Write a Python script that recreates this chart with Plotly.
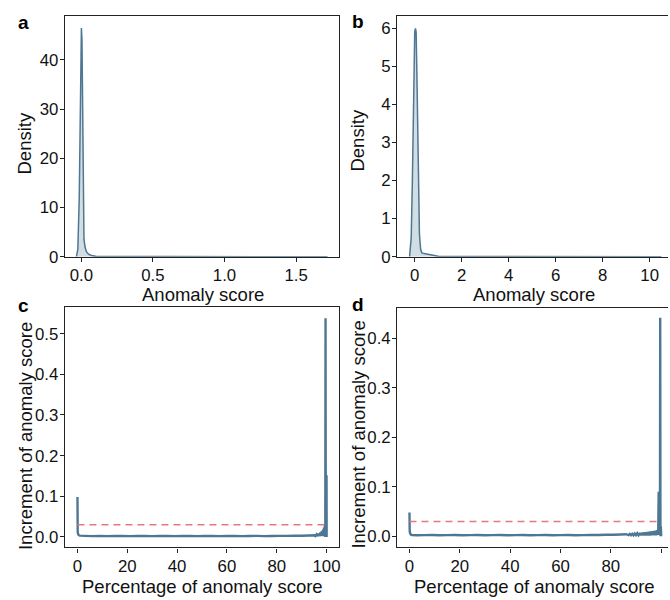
import plotly.graph_objects as go
from plotly.subplots import make_subplots

W, H = 670, 600

# ---------------- data ----------------
# panel a: density of anomaly score (dataset 1)
a_x = [-0.035, -0.025, -0.015, -0.008, -0.003, 0.0, 0.004, 0.008, 0.012, 0.018,
       0.025, 0.035, 0.05, 0.07, 0.1, 0.15, 0.3, 0.6, 1.0, 1.4, 1.72]
a_y = [0.0, 1.5, 12.0, 30.0, 42.0, 46.5, 44.0, 30.0, 10.0, 3.5,
       2.0, 1.0, 0.5, 0.25, 0.1, 0.04, 0.01, 0.005, 0.003, 0.002, 0.0]

# panel b: density of anomaly score (dataset 2)
b_x = [-0.22, -0.15, -0.1, -0.05, 0.0, 0.03, 0.06, 0.1, 0.15, 0.2, 0.25, 0.3,
       0.4, 0.55, 0.7, 1.0, 2.0, 4.0, 7.0, 9.0, 10.5]
b_y = [0.0, 0.5, 2.0, 4.5, 5.9, 6.0, 5.9, 4.5, 2.0, 0.6, 0.2, 0.1,
       0.08, 0.06, 0.03, 0.01, 0.004, 0.002, 0.001, 0.001, 0.0]

# panel c: increment of anomaly score vs percentage
c_x = [0.0, 0.1, 0.3, 0.6, 1.0,
       3, 6, 9, 12, 15, 18, 21, 24, 27, 30, 33, 36, 39, 42, 45, 48, 51, 54, 57, 60,
       63, 66, 69, 72, 75, 78, 81, 84, 87, 90, 93, 95,
       95.5, 96.0, 96.4, 96.8, 97.2, 97.5, 97.8, 98.1, 98.4, 98.6, 98.8, 99.0, 99.2,
       99.35, 99.5, 99.6, 99.7, 99.85, 100.0, 100.05]
c_y = [0.098, 0.012, 0.006, 0.004, 0.003,
       0.0025, 0.002, 0.0025, 0.002, 0.0022, 0.0025, 0.002, 0.0022, 0.0025, 0.002,
       0.0022, 0.0025, 0.002, 0.0022, 0.0025, 0.002, 0.0022, 0.0025, 0.002, 0.0022,
       0.0025, 0.002, 0.0022, 0.0025, 0.002, 0.0022, 0.0025, 0.0025, 0.003, 0.003,
       0.0035, 0.004,
       0.002, 0.006, 0.002, 0.008, 0.002, 0.011, 0.002, 0.014, 0.002, 0.018, 0.002,
       0.023, 0.002, 0.03, 0.0, 0.538, 0.0, 0.03, 0.152, 0.0]

# panel d: increment of anomaly score vs percentage (dataset 2)
d_x = [0.0, 0.1, 0.3, 0.6, 1.0,
       3, 6, 9, 12, 15, 18, 21, 24, 27, 30, 33, 36, 39, 42, 45, 48, 51, 54, 57, 60,
       63, 66, 69, 72, 75, 78, 81, 84, 86,
       87, 87.5, 88, 88.5, 89, 89.5, 90, 90.5, 91, 91.5, 92, 92.5, 93, 93.5, 94, 94.5,
       95, 95.5, 96, 96.5, 97, 97.5, 98, 98.5, 98.8,
       99.0, 99.1, 99.3, 99.5, 99.6, 99.7, 99.85, 100.0]
d_y = [0.048, 0.01, 0.005, 0.003, 0.0025,
       0.002, 0.0022, 0.0025, 0.002, 0.0022, 0.0025, 0.002, 0.0022, 0.0025, 0.002,
       0.0022, 0.0025, 0.002, 0.0022, 0.0025, 0.002, 0.0022, 0.0025, 0.002, 0.0022,
       0.0025, 0.002, 0.0022, 0.0025, 0.0025, 0.003, 0.003, 0.0035, 0.004,
       0.002, 0.0045, 0.002, 0.005, 0.002, 0.0055, 0.002, 0.006, 0.002, 0.0065,
       0.002, 0.007, 0.002, 0.0075, 0.002, 0.008, 0.002, 0.009, 0.002, 0.010,
       0.002, 0.011, 0.002, 0.012, 0.003,
       0.09, 0.003, 0.016, 0.004, 0.442, 0.0, 0.02, 0.0]

threshold = 0.03
thr_x = [0, 100]

LINE = "#4e7793"
FILL = "rgba(78,119,147,0.25)"
RED = "#e5787a"
FONT = "Liberation Sans, Arial, sans-serif"

fig = make_subplots(rows=2, cols=2)

fig.add_trace(go.Scatter(x=a_x, y=a_y, mode="lines", fill="tozeroy", fillcolor=FILL,
                         line=dict(color=LINE, width=1.5), showlegend=False), 1, 1)
fig.add_trace(go.Scatter(x=b_x, y=b_y, mode="lines", fill="tozeroy", fillcolor=FILL,
                         line=dict(color=LINE, width=1.5), showlegend=False), 1, 2)
fig.add_trace(go.Scatter(x=c_x, y=c_y, mode="lines",
                         line=dict(color=LINE, width=2.4, simplify=False), showlegend=False), 2, 1)
fig.add_trace(go.Scatter(x=thr_x, y=[threshold, threshold], mode="lines",
                         line=dict(color=RED, width=1.5, dash="7px,5px"), showlegend=False), 2, 1)
fig.add_trace(go.Scatter(x=d_x, y=d_y, mode="lines",
                         line=dict(color=LINE, width=2.4, simplify=False), showlegend=False), 2, 2)
fig.add_trace(go.Scatter(x=thr_x, y=[threshold, threshold], mode="lines",
                         line=dict(color=RED, width=1.5, dash="7px,5px"), showlegend=False), 2, 2)

def px(x):
    return x / W

def py(y):
    return 1 - y / H

common = dict(showgrid=False, zeroline=False, showline=True, linecolor="#222",
              linewidth=1.2, ticks="outside", ticklen=4, tickwidth=1.2,
              tickcolor="#222", tickfont=dict(size=16.8, color="#111", family=FONT))
xcommon = dict(common, ticklabelstandoff=-1)
ycommon = dict(common, ticklabelstandoff=-2)

fig.update_layout(
    xaxis=dict(domain=[px(65), px(340)], range=[-0.116, 1.80], tickvals=[0, 0.5, 1.0, 1.5],
               ticktext=["0.0", "0.5", "1.0", "1.5"], mirror=True, **xcommon),
    yaxis=dict(domain=[py(261), py(16)], range=[0, 49.0], tickvals=[0, 10, 20, 30, 40],
               mirror=True, **ycommon),
    xaxis2=dict(domain=[px(398.3), 1.0], range=[-0.75, 10.78], tickvals=[0, 2, 4, 6, 8, 10],
                mirror=True, **xcommon),
    yaxis2=dict(domain=[py(261), py(16)], range=[0, 6.33], tickvals=[0, 1, 2, 3, 4, 5, 6],
                mirror=False, **ycommon),
    xaxis3=dict(domain=[px(65), px(340)], range=[-5.08, 105.0],
                tickvals=[0, 20, 40, 60, 80, 100], mirror=True, **xcommon),
    yaxis3=dict(domain=[py(556.7), py(312.7)], range=[-0.0259, 0.5645],
                tickvals=[0, 0.1, 0.2, 0.3, 0.4, 0.5],
                ticktext=["0.0", "0.1", "0.2", "0.3", "0.4", "0.5"], mirror=True, **ycommon),
    xaxis4=dict(domain=[px(398.3), 1.0], range=[-4.91, 102.7],
                tickvals=[0, 20, 40, 60, 80, 100], mirror=True, **xcommon),
    yaxis4=dict(domain=[py(556.7), py(313.3)], range=[-0.0227, 0.4617],
                tickvals=[0, 0.1, 0.2, 0.3, 0.4],
                ticktext=["0.0", "0.1", "0.2", "0.3", "0.4"], mirror=False, **ycommon),
)

TF = dict(size=18.5, color="#111", family=FONT)
ann = []
for cx, cy, t in [(203.3, 299.5, "Anomaly score"), (535.8, 299.5, "Anomaly score"),
                  (202.8, 596, "Percentage of anomaly score"),
                  (535.8, 596, "Percentage of anomaly score")]:
    ann.append(dict(x=px(cx), y=py(cy), xref="paper", yref="paper", text=t, showarrow=False,
                    xanchor="center", yanchor="middle", font=TF))
for cx, cy, t in [(25, 146, "Density"), (359, 143, "Density"),
                  (25.5, 443, "Increment of anomaly score"),
                  (360, 442, "Increment of anomaly score")]:
    ann.append(dict(x=px(cx), y=py(cy), xref="paper", yref="paper", text=t, showarrow=False,
                    xanchor="center", yanchor="middle", textangle=-90, font=TF))
for cx, cy, t in [(23.3, 23, "a"), (359, 22, "b"), (24, 311, "c"), (359, 310, "d")]:
    ann.append(dict(x=px(cx), y=py(cy), xref="paper", yref="paper", text="<b>%s</b>" % t,
                    showarrow=False, xanchor="center", yanchor="middle",
                    font=dict(size=19, color="#000", family=FONT)))

fig.update_layout(width=W, height=H, margin=dict(l=0, r=0, t=0, b=0),
                  paper_bgcolor="white", plot_bgcolor="white", annotations=ann,
                  font=dict(family=FONT))

fig.write_html("out.html", config={"displayModeBar": False},
               post_script="document.body.style.margin='0';document.body.style.overflow='hidden';")
